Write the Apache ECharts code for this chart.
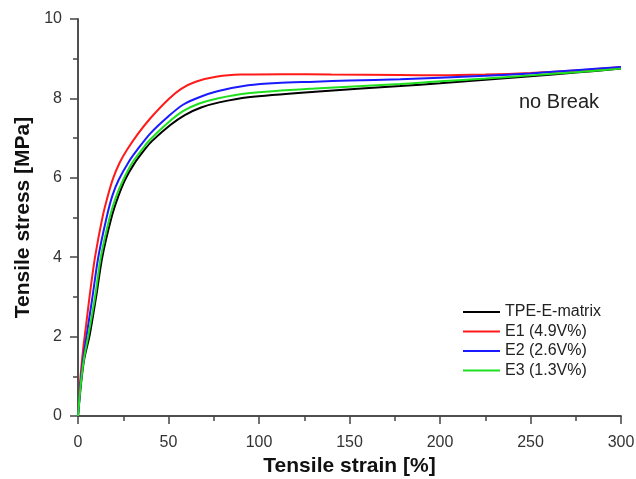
<!DOCTYPE html>
<html lang="en">

<head>
    <meta http-equiv="Content-Type" content="text/html; charset=utf-8" />
    <title>Tensile curves</title>
    <style>
        html,
        body,
        #myChart {
            width: 100%;
            height: 100%;
            margin: 0;
            padding: 0;
            overflow: hidden;
            background: #fff;
        }
    </style>
</head>

<body>
    <div id="myChart"></div>
    <script src="https://cdn.jsdelivr.net/npm/echarts@6/dist/echarts.min.js"></script>
    <script>
        // [strain %, stress MPa]
        var seriesNames = ['TPE-E-matrix', 'E1 (4.9V%)', 'E2 (2.6V%)', 'E3 (1.3V%)'];
        var seriesColors = ['#000000', '#ff1a1a', '#1a1aff', '#1fe01f'];

        var matrixData = [[0, 0], [1, 0.5], [2, 0.95], [3.5, 1.45], [6.5, 2.05], [10, 3.0], [13.4, 4.0], [18.5, 5.0],
            [22, 5.5], [26, 5.95], [31, 6.35], [37, 6.72], [41, 6.93], [51, 7.33], [59, 7.58], [68, 7.77], [78, 7.9],
            [94, 8.03], [131, 8.17], [178, 8.31], [200, 8.38], [225, 8.47], [250, 8.56], [275, 8.65], [300, 8.75]];
        var e1Data = [[0, 0], [1, 0.75], [2, 1.3], [3, 1.75], [4.5, 2.3], [6.5, 3.05], [9.4, 4.0], [13.5, 5.0],
            [16.5, 5.55], [19.5, 6.0], [23, 6.38], [27, 6.7], [33, 7.1], [40, 7.5], [50, 7.98], [57, 8.24], [65, 8.42],
            [77, 8.55], [90, 8.6], [113, 8.61], [140, 8.6], [178, 8.59], [200, 8.58], [225, 8.6], [250, 8.64],
            [275, 8.7], [300, 8.79]];
        var e2Data = [[0, 0], [1, 0.6], [2, 1.1], [3.5, 1.65], [5, 2.1], [8, 3.0], [11.2, 4.0], [15.8, 5.0], [19, 5.55],
            [22.5, 5.95], [28, 6.4], [33, 6.72], [40, 7.12], [50, 7.55], [58, 7.84], [67, 8.03], [77, 8.18], [94, 8.33],
            [110, 8.39], [131, 8.42], [150, 8.45], [178, 8.48], [200, 8.52], [225, 8.57], [250, 8.63], [275, 8.71],
            [300, 8.79]];
        var e3Data = [[0, 0], [1, 0.55], [2, 1.0], [3.5, 1.5], [6, 2.1], [9.4, 3.0], [12.6, 4.0], [17.5, 5.0], [21, 5.52],
            [25, 5.95], [30, 6.38], [36, 6.75], [40, 6.97], [50, 7.4], [58, 7.68], [67, 7.87], [77, 8.0], [94, 8.13],
            [131, 8.25], [178, 8.36], [200, 8.43], [225, 8.5], [250, 8.58], [275, 8.66], [300, 8.75]];
        var allData = [matrixData, e1Data, e2Data, e3Data];

        var axisColor = '#444';
        var fontName = 'Liberation Sans';

        var myChart = echarts.init(document.getElementById('myChart'));
        var series = [];
        for (var i = 0; i < allData.length; i++) {
            series.push({
                name: seriesNames[i],
                type: 'line',
                data: allData[i],
                showSymbol: false,
                symbol: 'none',
                smooth: 0.3,
                lineStyle: { color: seriesColors[i], width: 2 },
                itemStyle: { color: seriesColors[i] }
            });
        }

        var option = {
            backgroundColor: '#fff',
            animation: false,
            textStyle: { fontFamily: fontName },
            grid: {
                left: 78,
                right: 15,
                top: 19,
                bottom: 63,
                containLabel: false,
                outerBoundsMode: 'none'
            },
            legend: {
                orient: 'vertical',
                left: 458,
                top: 299,
                itemWidth: 37,
                itemHeight: 2,
                itemGap: 3.5,
                icon: 'rect',
                textStyle: { fontSize: 16, lineHeight: 16, color: '#222', fontFamily: fontName },
                data: seriesNames
            },
            graphic: [{
                type: 'text',
                x: 519,
                y: 102,
                style: { text: 'no Break', fontSize: 20, fill: '#222', fontFamily: fontName, verticalAlign: 'middle' }
            }],
            xAxis: [{
                type: 'value',
                min: 0,
                max: 300,
                interval: 50,
                name: 'Tensile strain [%]',
                nameLocation: 'middle',
                nameGap: 38,
                nameTextStyle: { fontSize: 21, fontWeight: 'bold', color: '#111' },
                axisLine: { lineStyle: { color: axisColor, width: 1.5 } },
                axisTick: { inside: false, length: 8, lineStyle: { color: axisColor, width: 1.5 } },
                minorTick: { show: true, splitNumber: 2, length: 5, lineStyle: { color: axisColor, width: 1.5 } },
                axisLabel: { fontSize: 16, color: '#333', margin: 19 },
                splitLine: { show: false }
            }, {
                type: 'value',
                position: 'top',
                min: 0,
                max: 300,
                axisLine: { show: true, lineStyle: { color: axisColor, width: 1.5 } },
                axisTick: { show: false },
                axisLabel: { show: false },
                splitLine: { show: false }
            }],
            yAxis: [{
                type: 'value',
                min: 0,
                max: 10,
                interval: 2,
                name: 'Tensile stress [MPa]',
                nameLocation: 'middle',
                nameGap: 44,
                nameTextStyle: { fontSize: 21, fontWeight: 'bold', color: '#111' },
                axisLine: { show: true, lineStyle: { color: axisColor, width: 1.5 } },
                axisTick: { inside: false, length: 8, lineStyle: { color: axisColor, width: 1.5 } },
                minorTick: { show: true, splitNumber: 2, length: 5, lineStyle: { color: axisColor, width: 1.5 } },
                axisLabel: { fontSize: 16, color: '#333', margin: 16 },
                splitLine: { show: false }
            }, {
                type: 'value',
                position: 'right',
                min: 0,
                max: 10,
                axisLine: { show: true, lineStyle: { color: axisColor, width: 1.5 } },
                axisTick: { show: false },
                axisLabel: { show: false },
                splitLine: { show: false }
            }],
            series: series
        };
        myChart.setOption(option);
    </script>
</body>

</html>
